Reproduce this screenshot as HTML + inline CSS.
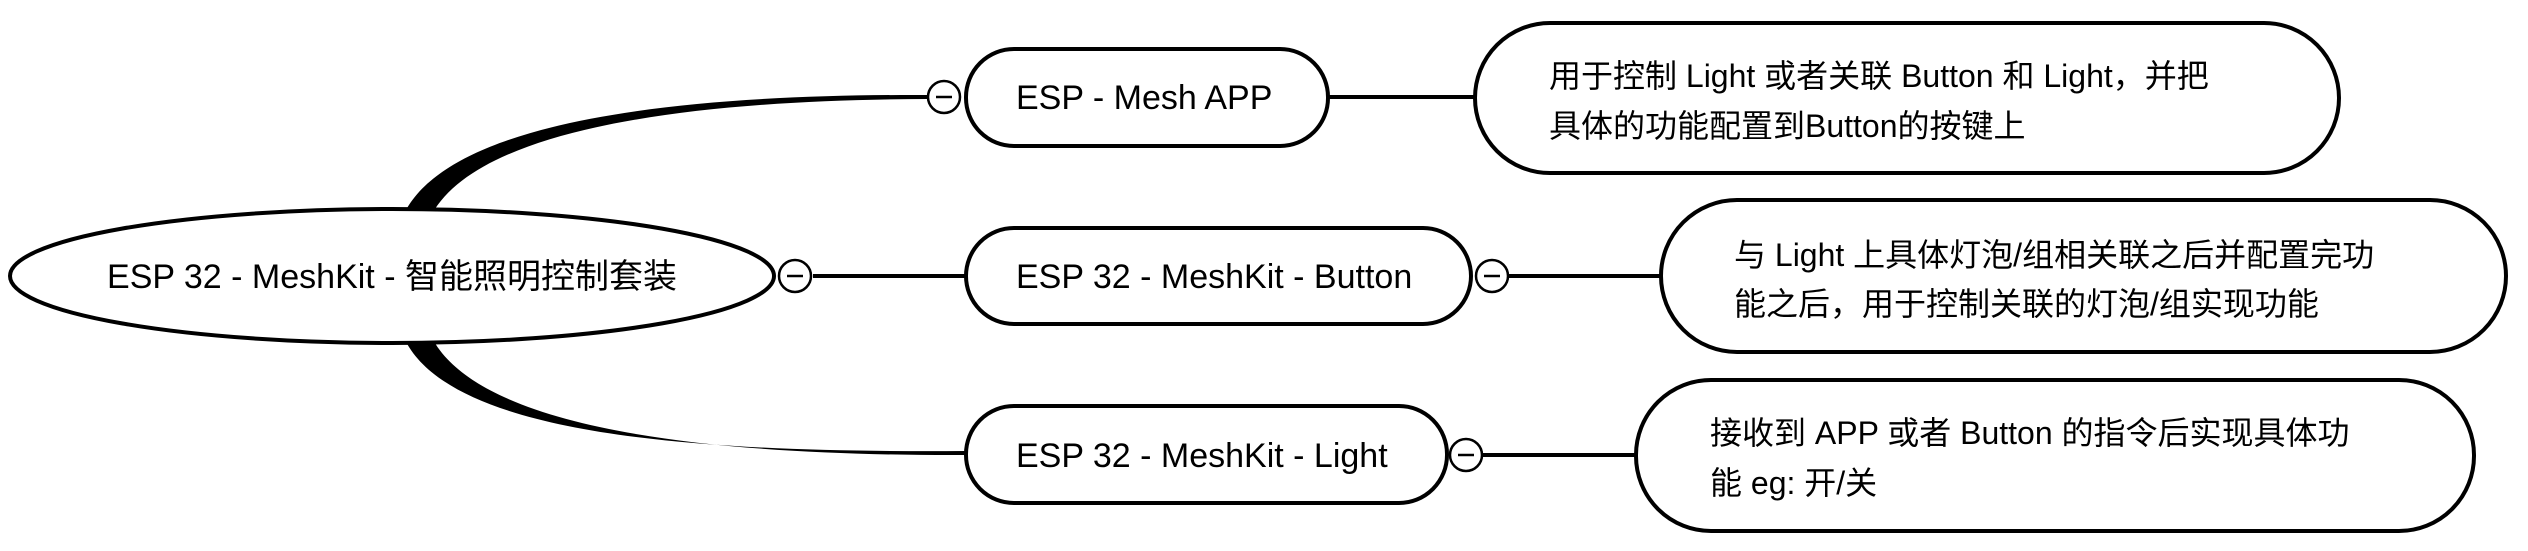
<!DOCTYPE html>
<html><head><meta charset="utf-8"><style>
html,body{margin:0;padding:0;background:#fff;}
svg text{font-family:"Liberation Sans","Noto Sans CJK SC",sans-serif;font-size:32px;fill:#000;}
svg text.n{font-size:34px;}
</style></head><body>
<svg width="2528" height="546" viewBox="0 0 2528 546" xmlns="http://www.w3.org/2000/svg">
<g fill="#000" stroke="none">
<path d="M404 214 C450 120 680 94 927 95 L927 99 C690 100 480 128 432 214 Z"/>
<path d="M404 338 C450 435 690 453 966 451 L966 455 C700 456 480 428 432 338 Z"/>
</g>
<g stroke="#000" stroke-width="4" fill="none">
<line x1="813" y1="276" x2="966" y2="276"/>
<line x1="1328" y1="97" x2="1475" y2="97"/>
<line x1="1509" y1="276" x2="1661" y2="276"/>
<line x1="1483" y1="455" x2="1636" y2="455"/>
</g>
<g stroke="#000" stroke-width="4" fill="#fff">
<ellipse cx="392" cy="276" rx="382" ry="67"/>
<rect x="966" y="49" width="362" height="97" rx="48"/>
<rect x="966" y="228" width="505" height="96" rx="48"/>
<rect x="966" y="406" width="481" height="97" rx="48"/>
<rect x="1475" y="23" width="864" height="150" rx="75"/>
<rect x="1661" y="200" width="845" height="152" rx="76"/>
<rect x="1636" y="380" width="838" height="151" rx="75"/>
</g>
<g stroke="#000" stroke-width="2.5" fill="#fff">
<circle cx="795" cy="276" r="16"/>
<circle cx="944" cy="97" r="16"/>
<circle cx="1492" cy="276" r="16"/>
<circle cx="1466" cy="455" r="16"/>
</g>
<g stroke="#000" stroke-width="2.5">
<line x1="787" y1="276" x2="803" y2="276"/>
<line x1="936" y1="97" x2="952" y2="97"/>
<line x1="1484" y1="276" x2="1500" y2="276"/>
<line x1="1458" y1="455" x2="1474" y2="455"/>
</g>
<text class="n" x="392" y="288" text-anchor="middle">ESP 32 - MeshKit - 智能照明控制套装</text>
<text class="n" x="1016" y="109">ESP - Mesh APP</text>
<text class="n" x="1016" y="288">ESP 32 - MeshKit - Button</text>
<text class="n" x="1016" y="467">ESP 32 - MeshKit - Light</text>
<text x="1549" y="87">用于控制 Light 或者关联 Button 和 Light，并把</text>
<text x="1549" y="137">具体的功能配置到Button的按键上</text>
<text x="1734" y="266">与 Light 上具体灯泡/组相关联之后并配置完功</text>
<text x="1734" y="315">能之后，用于控制关联的灯泡/组实现功能</text>
<text x="1710" y="444">接收到 APP 或者 Button 的指令后实现具体功</text>
<text x="1710" y="494">能 eg: 开/关</text>
</svg>
</body></html>
